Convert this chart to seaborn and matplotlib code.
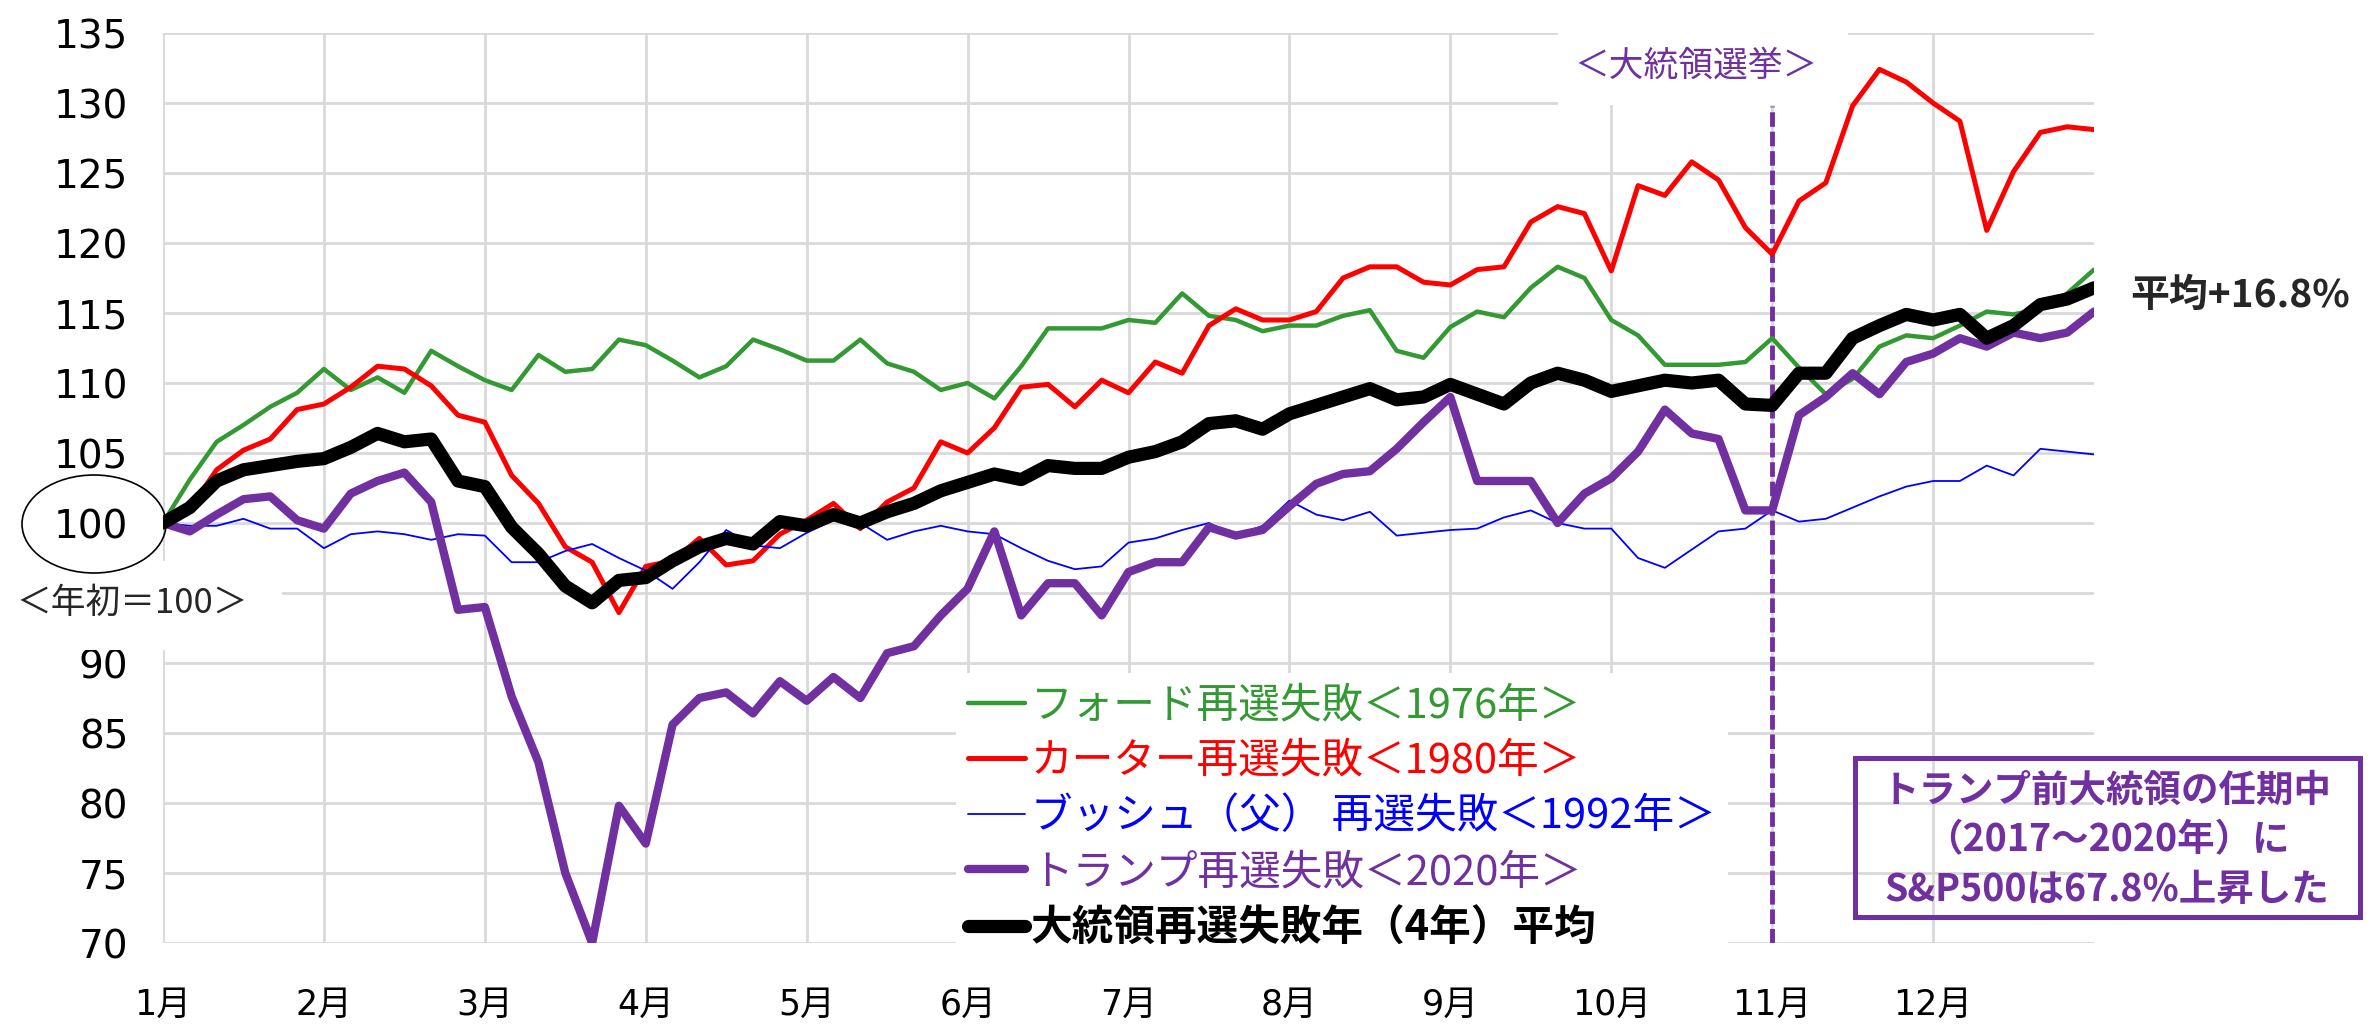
import matplotlib
matplotlib.use("Agg")

import matplotlib.pyplot as plt
from matplotlib.font_manager import FontProperties
from matplotlib.patches import Ellipse, Rectangle
import numpy as np
import seaborn as sns

W, H = 2369, 1028
JP = ["Noto Sans CJK JP", "DejaVu Sans"]

MONTHS = [f"{m}月" for m in range(1, 13)]
Y_TICKS = list(range(70, 136, 5))
Y_LABELS = ["" if v == 95 else str(v) for v in Y_TICKS]

# values, one point every 1/6 month (Jan 1 .. Dec 31)
ford_1976 = [
    100, 103.1, 105.8, 107, 108.3, 109.3, 111,
    109.5, 110.4, 109.3, 112.3, 111.2, 110.2,
    109.5, 112, 110.8, 111, 113.1, 112.7,
    111.6, 110.4, 111.2, 113.1, 112.4, 111.6,
    111.6, 113.1, 111.4, 110.8, 109.5, 110,
    108.9, 111.2, 113.9, 113.9, 113.9, 114.5,
    114.3, 116.4, 114.8, 114.5, 113.7, 114.1,
    114.1, 114.8, 115.2, 112.3, 111.8, 114,
    115.1, 114.7, 116.8, 118.3, 117.5, 114.5,
    113.4, 111.3, 111.3, 111.3, 111.5, 113.2,
    111.1, 109.2, 110.3, 112.6, 113.4, 113.2,
    114.1, 115.1, 114.9, 115.3, 116.4, 118.1,
]
carter_1980 = [
    100, 101, 103.8, 105.2, 106, 108.1, 108.5,
    109.7, 111.2, 111, 109.8, 107.7, 107.2,
    103.4, 101.4, 98.3, 97.2, 93.6, 96.9,
    97.3, 98.9, 97, 97.3, 99.2, 100.2,
    101.4, 99.6, 101.5, 102.5, 105.8, 105,
    106.8, 109.7, 109.9, 108.3, 110.2, 109.3,
    111.5, 110.7, 114.1, 115.3, 114.5, 114.5,
    115.1, 117.5, 118.3, 118.3, 117.2, 117,
    118.1, 118.3, 121.5, 122.6, 122.1, 118,
    124.1, 123.4, 125.8, 124.5, 121.1, 119.2,
    123, 124.3, 129.8, 132.4, 131.5, 130,
    128.7, 120.9, 125.1, 127.9, 128.3, 128.1,
]
bush_1992 = [
    100, 99.8, 99.8, 100.3, 99.6, 99.6, 98.2,
    99.2, 99.4, 99.2, 98.8, 99.2, 99.1,
    97.2, 97.2, 98, 98.5, 97.5, 96.6,
    95.3, 97.2, 99.5, 98.4, 98.2, 99.3,
    100.2, 100, 98.8, 99.4, 99.8, 99.4,
    99.2, 98.2, 97.3, 96.7, 96.9, 98.6,
    98.9, 99.5, 100, 99.1, 99.8, 101.6,
    100.6, 100.2, 100.8, 99.1, 99.3, 99.5,
    99.6, 100.4, 100.9, 100, 99.6, 99.6,
    97.5, 96.8, 98.1, 99.4, 99.6, 100.9,
    100.1, 100.3, 101.1, 101.9, 102.6, 103,
    103, 104.1, 103.4, 105.3, 105.1, 104.9,
]
trump_2020 = [
    100, 99.4, 100.6, 101.7, 101.9, 100.2, 99.6,
    102.1, 103, 103.6, 101.5, 93.8, 94,
    87.6, 82.9, 75, 70, 79.8, 77.1,
    85.6, 87.5, 87.9, 86.4, 88.7, 87.3,
    89, 87.5, 90.7, 91.2, 93.4, 95.3,
    99.4, 93.4, 95.7, 95.7, 93.4, 96.5,
    97.2, 97.2, 99.7, 99.1, 99.5, 101.2,
    102.8, 103.5, 103.7, 105.3, 107.2, 109,
    103, 103, 103, 100, 102.1, 103.2,
    105.1, 108.1, 106.4, 106, 100.9, 100.9,
    107.7, 109, 110.7, 109.2, 111.5, 112.1,
    113.2, 112.6, 113.6, 113.2, 113.6, 115.1,
]
average_4 = [
    100, 101.1, 103, 103.8, 104.1, 104.4, 104.6,
    105.4, 106.4, 105.8, 106, 103, 102.6,
    99.7, 97.8, 95.5, 94.3, 95.9, 96.1,
    97.3, 98.3, 98.9, 98.5, 100.1, 99.8,
    100.6, 100, 100.8, 101.4, 102.3, 102.9,
    103.5, 103.1, 104.1, 103.9, 103.9, 104.7,
    105.1, 105.8, 107.1, 107.3, 106.7, 107.8,
    108.4, 109, 109.6, 108.8, 109, 109.9,
    109.2, 108.5, 110, 110.7, 110.2, 109.4,
    109.8, 110.2, 110, 110.2, 108.5, 108.4,
    110.7, 110.7, 113.2, 114.1, 114.9, 114.5,
    114.9, 113.2, 114.1, 115.6, 116, 116.8,
]

SERIES = [
    ("フォード再選失敗＜1976年＞", ford_1976, "#339933", 3.2),
    ("カーター再選失敗＜1980年＞", carter_1980, "#FF0000", 3.6),
    ("ブッシュ（父） 再選失敗＜1992年＞", bush_1992, "#0000FF", 1.3),
    ("トランプ再選失敗＜2020年＞", trump_2020, "#7030A0", 6.0),
    ("大統領再選失敗年（4年）平均", average_4, "black", 9.5),
]
PURPLE = "#7030A0"


def fx(px):
    return px / W


def fy(py):
    return 1 - py / H


sns.set_style("white")
plt.rcParams["font.family"] = ["DejaVu Sans", "Noto Sans CJK JP"]

fig = plt.figure(figsize=(W / 100, H / 100), dpi=100)
ax = fig.add_axes([fx(163), fy(943), (2094 - 163) / W, (943 - 33) / H])

x = np.arange(len(ford_1976)) / 6
for label, vals, color, lw in SERIES:
    sns.lineplot(x=x, y=vals, color=color, linewidth=lw, label=label, ax=ax)

# election day
ax.vlines(10, 70, 129.8, colors=PURPLE, linestyles=(0, (3, 1)), lw=3.5, zorder=1.5)

ax.set_xlim(0, 12)
ax.set_ylim(70, 135)
ax.set_xticks(range(12))
ax.set_xticklabels(MONTHS)
ax.set_yticks(Y_TICKS)
ax.set_yticklabels(Y_LABELS)
ax.set_xlabel("")
ax.set_ylabel("")
ax.tick_params(axis="both", length=0, colors="black")
ax.tick_params(axis="y", pad=25, labelsize=28)
ax.tick_params(axis="x", pad=32, labelsize=25)
ax.grid(True, color="#D9D9D9", lw=2)
ax.set_axisbelow(True)
for s in ax.spines.values():
    s.set_visible(False)

leg = ax.legend(loc="upper left", bbox_to_anchor=(fx(935), fy(652)),
                bbox_transform=fig.transFigure, prop=FontProperties(family=JP, size=30),
                frameon=True, fancybox=False, framealpha=1, facecolor="white",
                edgecolor="none", borderpad=0.3, handlelength=1.35,
                handletextpad=0.15, labelspacing=0.35, labelcolor="linecolor")
leg.get_texts()[-1].set_fontweight("bold")

# start-of-year label and circled 100
fig.add_artist(Rectangle((0, fy(650)), fx(282), (650 - 561) / H, transform=fig.transFigure,
                         facecolor="white", edgecolor="none"))
fig.text(fx(132), fy(603), "＜年初＝100＞", ha="center", va="center", fontsize=25,
         family=JP)
fig.add_artist(Ellipse((fx(94), fy(524)), 144 / W, 98 / H, transform=fig.transFigure,
                       fill=False, edgecolor="black", lw=1.2))

# election label
fig.add_artist(Rectangle((fx(1558), fy(105)), 290 / W, 85 / H, transform=fig.transFigure,
                         facecolor="white", edgecolor="none"))
fig.text(fx(1696), fy(66), "＜大統領選挙＞", ha="center", va="center", fontsize=25,
         color=PURPLE, family=JP)

fig.text(fx(2130), fy(295), "平均+16.8%", ha="left", va="center", fontsize=28,
         fontweight="bold", family=JP)

fig.add_artist(Rectangle((fx(1855), fy(917)), 505 / W, 159 / H, transform=fig.transFigure,
                         fill=False, edgecolor=PURPLE, lw=3.6))
fig.text(fx(2107), fy(840),
         "トランプ前大統領の任期中\n（2017～2020年）に\nS&P500は67.8%上昇した",
         ha="center", va="center", fontsize=27, fontweight="bold", color=PURPLE,
         linespacing=1.35, family=JP)

fig.savefig("out.png", dpi=100)
plt.close(fig)
